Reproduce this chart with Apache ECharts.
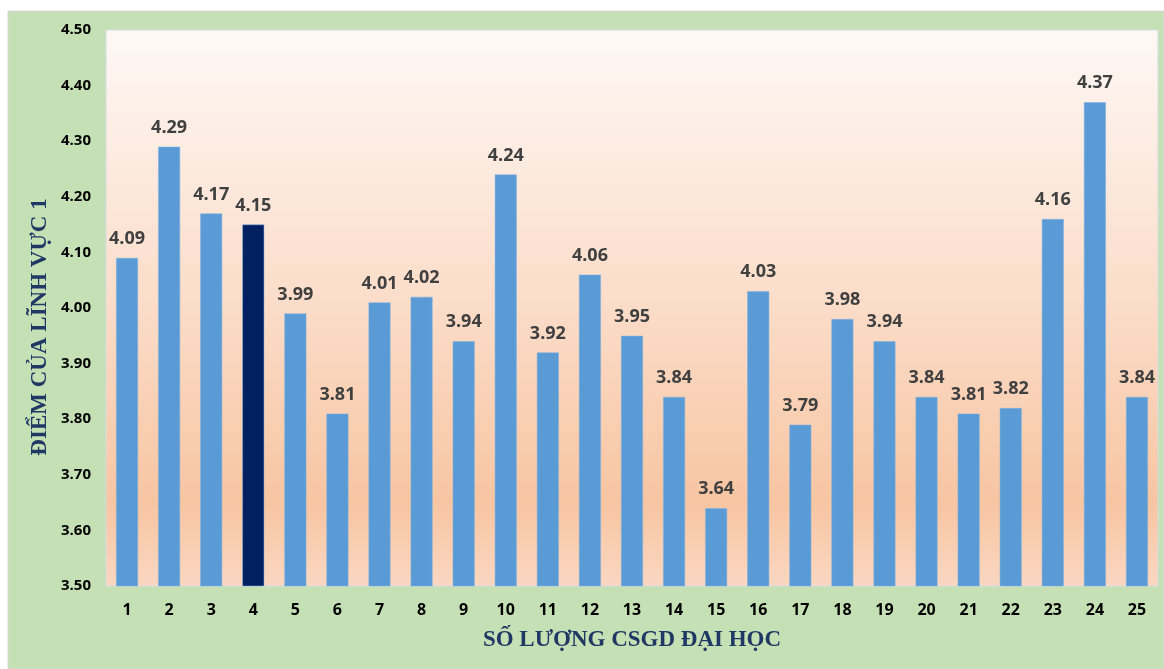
<!DOCTYPE html>
<html>
<head>
<meta charset="utf-8">
<script src="https://cdn.jsdelivr.net/npm/echarts@6/dist/echarts.min.js"></script>
<style>
html, body { margin: 0; padding: 0; background: #fff; }
#chart { width: 1164px; height: 669px; }
</style>
</head>
<body>
<div id="chart"></div>
<script>
// du lieu
var categories = ["1", "2", "3", "4", "5", "6", "7", "8", "9", "10", "11", "12", "13",
    "14", "15", "16", "17", "18", "19", "20", "21", "22", "23", "24", "25"];
var scores = [4.09, 4.29, 4.17, 4.15, 3.99, 3.81, 4.01, 4.02, 3.94, 4.24, 3.92, 4.06, 3.95,
    3.84, 3.64, 4.03, 3.79, 3.98, 3.94, 3.84, 3.81, 3.82, 4.16, 4.37, 3.84];
var highlightIndex = 3;
var yTitle = "ĐIỂM CỦA LĨNH VỰC 1";
var xTitle = "SỐ LƯỢNG CSGD ĐẠI HỌC";

var barData = [];
for (let i = 0, len = scores.length; i < len; i++) {
    let item = { value: scores[i] };
    if (i == highlightIndex) {
        item.itemStyle = { color: "#002060" };
    }
    barData.push(item);
}

var dom = document.getElementById("chart");
var myChart = echarts.init(dom, null, { renderer: "canvas" });
var option = {
    animation: false,
    backgroundColor: "#ffffff",
    graphic: [
        {
            type: "rect",
            z: -10,
            shape: { x: 8, y: 11, width: 1156, height: 658 },
            style: { fill: "#c5e0b4", stroke: "#d9d9d9", lineWidth: 1 }
        },
        {
            type: "text",
            x: 40,
            y: 327,
            rotation: Math.PI / 2,
            style: {
                text: yTitle,
                fill: "#1f3864",
                font: "bold 23px 'Liberation Serif', serif",
                align: "center",
                verticalAlign: "middle"
            }
        },
        {
            type: "text",
            x: 632,
            y: 640,
            style: {
                text: xTitle,
                fill: "#1f3864",
                font: "bold 23px 'Liberation Serif', serif",
                align: "center",
                verticalAlign: "middle"
            }
        }
    ],
    grid: {
        left: 106,
        right: 6,
        top: 30,
        bottom: 83,
        show: true,
        borderColor: "#d6dce5",
        borderWidth: 1,
        backgroundColor: new echarts.graphic.LinearGradient(0, 0, 0, 1, [
            { offset: 0, color: "#fef8f5" },
            { offset: 0.5, color: "#fbdcc8" },
            { offset: 0.85, color: "#f7c5a2" },
            { offset: 1, color: "#fad7c1" }
        ])
    },
    xAxis: {
        type: "category",
        data: categories,
        axisLine: { show: false },
        axisTick: { show: false },
        axisLabel: {
            color: "#000000",
            fontFamily: "Open Sans",
            fontWeight: "bold",
            fontSize: 16,
            margin: 16
        }
    },
    yAxis: {
        type: "value",
        min: 3.5,
        max: 4.5,
        interval: 0.1,
        splitLine: { show: false },
        axisLine: { show: false },
        axisTick: { show: false },
        axisLabel: {
            color: "#000000",
            fontFamily: "Open Sans",
            fontWeight: "bold",
            fontSize: 15,
            margin: 15,
            formatter: function (v) { return v.toFixed(2); }
        }
    },
    series: [
        {
            type: "bar",
            data: barData,
            barWidth: "52%",
            itemStyle: { color: "#5b9bd5", borderColor: "#7fb0e0", borderWidth: 0.5 },
            label: {
                show: true,
                position: "top",
                distance: 10,
                color: "#404040",
                fontFamily: "Open Sans",
                fontWeight: "bold",
                fontSize: 18,
                formatter: function (p) { return p.value.toFixed(2); }
            }
        }
    ]
};
myChart.setOption(option, true);
</script>
</body>
</html>
